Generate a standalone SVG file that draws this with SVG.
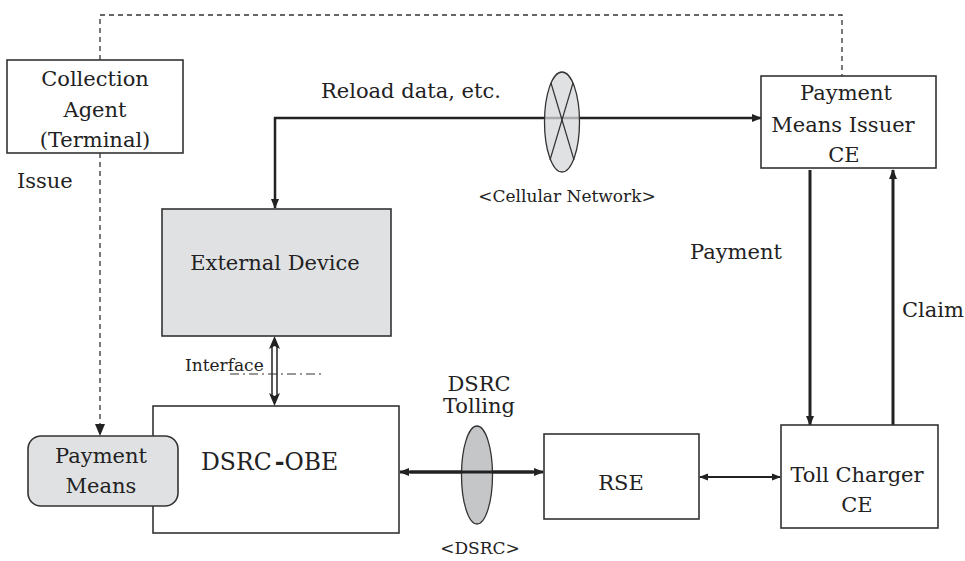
<svg xmlns="http://www.w3.org/2000/svg" width="965" height="561" viewBox="0 0 965 561">
<style>
text{font-family:"DejaVu Serif","Liberation Serif",serif;fill:#222;font-size:21px}
.box{fill:#fff;stroke:#333;stroke-width:1.6}
.gray{fill:#e0e1e3;stroke:#333;stroke-width:1.6}
.c{text-anchor:middle}
.ln{stroke:#222;fill:none}
.dash{stroke:#333;stroke-width:1.3;stroke-dasharray:5 4;fill:none}
</style>
<defs>
<marker id="ah" markerWidth="10" markerHeight="10" refX="9" refY="5" orient="auto-start-reverse" markerUnits="userSpaceOnUse">
<path d="M0,1 L10,5 L0,9 Z" fill="#222"/>
</marker>
<marker id="ahs" markerWidth="9" markerHeight="9" refX="8" refY="4.5" orient="auto-start-reverse" markerUnits="userSpaceOnUse">
<path d="M0,1 L9,4.5 L0,8 Z" fill="#222"/>
</marker>
</defs>

<g id="connectors">
<path class="dash" d="M100,60 V15 H842 V76"/>
<path class="dash" d="M100,153 V426"/>
<path d="M95,424 L105,424 L100,436 Z" fill="#222"/>
<path class="ln" stroke-width="2.5" d="M275,208 V118 H761" marker-start="url(#ah)" marker-end="url(#ah)"/>
<path class="ln" stroke-width="3" d="M810,170 V425" marker-end="url(#ah)"/>
<path class="ln" stroke-width="3" d="M893,425 V170" marker-end="url(#ah)"/>
<path class="ln" stroke-width="3" d="M400,472 H543" marker-start="url(#ah)" marker-end="url(#ah)"/>
<path class="ln" stroke-width="2" d="M700,477 H780" marker-start="url(#ahs)" marker-end="url(#ahs)"/>
<line x1="272" y1="346" x2="272" y2="396" stroke="#222" stroke-width="1.5"/>
<line x1="277" y1="346" x2="277" y2="396" stroke="#222" stroke-width="1.5"/>
<path d="M274.5,336 L280,349 L274.5,346 L269,349 Z" fill="#222"/>
<path d="M274.5,406 L280,393 L274.5,396 L269,393 Z" fill="#222"/>
<line x1="230" y1="374" x2="323" y2="374" stroke="#333" stroke-width="1.2" stroke-dasharray="9 4 2 4"/>
</g>
<text x="321" y="98">Reload data, etc.</text>

<g id="cellular">
<ellipse cx="562" cy="122" rx="17.5" ry="50" fill="#d6d7d9" fill-opacity="0.75" stroke="#333" stroke-width="1.3"/>
<line x1="551" y1="83" x2="574" y2="160" stroke="#333" stroke-width="1.2"/>
<line x1="573" y1="83" x2="550" y2="160" stroke="#333" stroke-width="1.2"/>
<text x="567" y="202" class="c" style="font-size:17px">&lt;Cellular Network&gt;</text>
</g>

<g id="dsrc-link">
<ellipse cx="477" cy="475" rx="15.5" ry="49" fill="#c5c6c8" stroke="#333" stroke-width="1.3"/>
<path class="ln" stroke-width="3" d="M410,472 H533"/>
<text x="479" y="391" class="c">DSRC</text>
<text x="479" y="413" class="c">Tolling</text>
<text x="480" y="554" class="c" style="font-size:17px">&lt;DSRC&gt;</text>
</g>

<g id="collection-agent">
<rect class="box" x="7" y="60" width="176" height="93"/>
<text x="95" y="86" class="c">Collection</text>
<text x="95" y="117" class="c">Agent</text>
<text x="95" y="147" class="c">(Terminal)</text>
</g>
<text x="17" y="188">Issue</text>

<g id="payment-means-issuer">
<rect class="box" x="761" y="76" width="175" height="92"/>
<text x="846" y="100" class="c">Payment</text>
<text x="843" y="132" class="c">Means Issuer</text>
<text x="844" y="162" class="c">CE</text>
</g>
<text x="690" y="259">Payment</text>
<text x="902" y="317">Claim</text>

<g id="external-device">
<rect class="gray" x="162" y="209" width="229" height="127"/>
<text x="275" y="270" class="c">External Device</text>
</g>
<text x="185" y="371" style="font-size:17px">Interface</text>

<g id="dsrc-obe">
<rect class="box" x="153" y="406" width="246" height="127"/>
<text x="201" y="470" style="font-size:23.5px">DSRC<tspan dx="3" font-weight="bold">-</tspan>OBE</text>
</g>

<g id="payment-means">
<rect class="gray" x="28" y="436" width="150" height="70" rx="13"/>
<text x="101" y="463" class="c">Payment</text>
<text x="101" y="493" class="c">Means</text>
</g>

<g id="rse">
<rect class="box" x="544" y="434" width="155" height="85"/>
<text x="621" y="490" class="c">RSE</text>
</g>

<g id="toll-charger">
<rect class="box" x="781" y="425" width="157" height="103"/>
<text x="857" y="482" class="c">Toll Charger</text>
<text x="857" y="512" class="c">CE</text>
</g>
</svg>
